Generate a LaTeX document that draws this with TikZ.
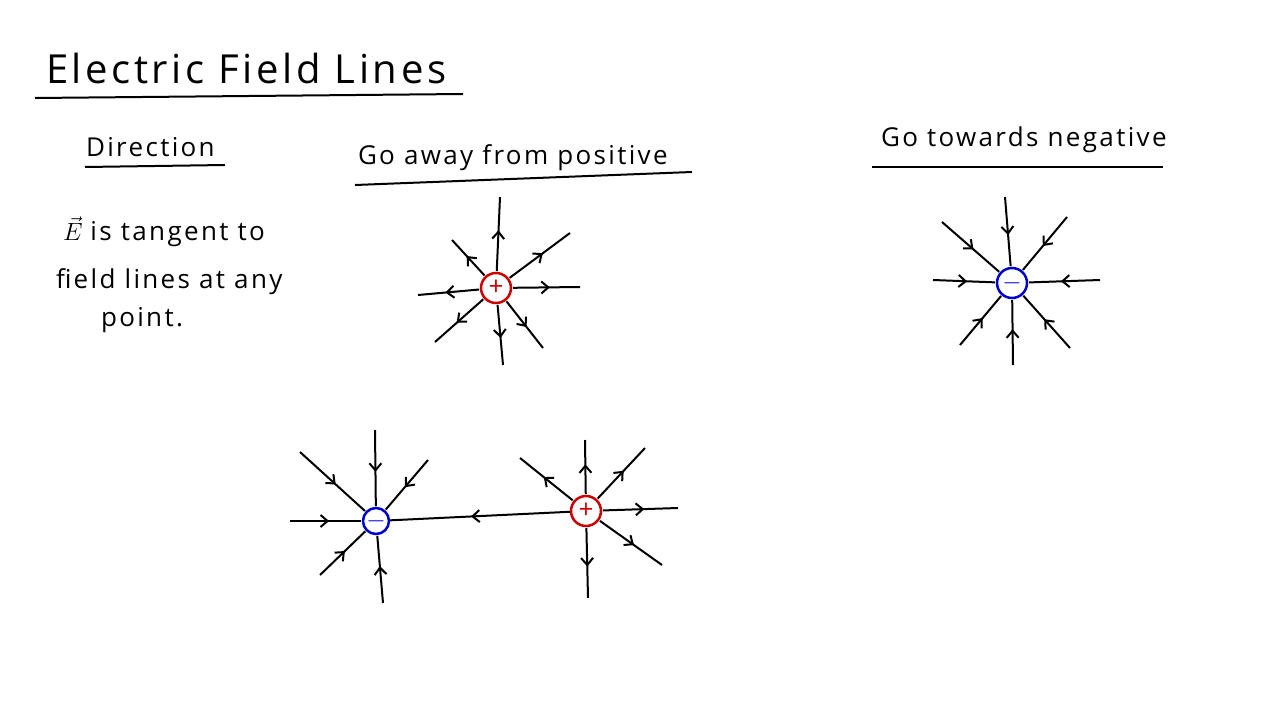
\documentclass[tikz,border=0pt]{standalone}
\usepackage{fontspec}
\setmainfont[LetterSpace=9]{Open Sans}
\usetikzlibrary{calc,decorations.markings,arrows.meta}
\begin{document}
\begin{tikzpicture}[x=1pt,y=-1pt,line width=2pt,
  fl/.style={postaction={decorate},decoration={markings,mark=at position 0.55 with {\arrow{Straight Barb[length=7pt,width=12pt]}}}},
  poscharge/.style={circle,draw=red!80!black,text=red!80!black,minimum size=30pt,inner sep=0pt,line width=2.5pt,font=\fontsize{26}{26}\selectfont},
  negcharge/.style={circle,draw=blue!80!black,text=blue!80!black,minimum size=30pt,inner sep=0pt,line width=2.5pt,font=\fontsize{26}{26}\selectfont},
  lbl/.style={anchor=west,font=\fontsize{26}{30}\selectfont,inner sep=0pt}]
\useasboundingbox[fill=white] (0,0) rectangle (1280,720);
% texts
\node[lbl,font=\fontsize{40}{44}\selectfont] (title) at (45,68) {Electric Field Lines};
\coordinate (t1) at (35,98); \coordinate (t2) at (463,94); \draw (t1) -- (t2);
\node[lbl] (dir) at (85,147) {Direction};
\coordinate (d1) at (85,167); \coordinate (d2) at (225,165); \draw (d1) -- (d2);
\node[lbl] (l1) at (62,232) {$\vec{E}$\hspace{8pt}is tangent to};
\node[lbl] (l2) at (55,282) {field lines at any};
\node[lbl] (l3) at (100,320) {point.};
\node[lbl] (gp) at (357,158) {Go away from positive};
\coordinate (g1) at (355,185); \coordinate (g2) at (692,172); \draw (g1) -- (g2);
\node[lbl] (gn) at (880,140) {Go towards negative};
\coordinate (h1) at (872,167); \coordinate (h2) at (1163,167); \draw (h1) -- (h2);
% positive charge
\node[poscharge] (P) at (496,288) {+};
\foreach \x/\y [count=\i] in {500/197,570/233,580/287,543/348,503/365,435/342,418/295,452/240}
  {\coordinate (pe\i) at (\x,\y); \draw[fl] ($(P)!17pt!(pe\i)$) -- (pe\i);}
% negative charge
\node[negcharge] (N) at (1012,283) {$-$};
\foreach \x/\y [count=\i] in {1005/197,1067/217,1100/280,1070/348,1013/365,960/345,933/280,942/222}
  {\coordinate (ne\i) at (\x,\y); \draw[fl] (ne\i) -- ($(N)!17pt!(ne\i)$);}
% dipole
\node[negcharge,minimum size=26pt] (N2) at (376,521) {$-$};
\node[poscharge,minimum size=30pt] (P2) at (586,511) {+};
\draw[fl] (P2) -- (N2);
\foreach \x/\y [count=\i] in {375/430,428/460,290/521,320/575,383/603,300/452}
  {\coordinate (me\i) at (\x,\y); \draw[fl] (me\i) -- ($(N2)!15pt!(me\i)$);}
\foreach \x/\y [count=\i] in {585/440,645/448,678/508,662/565,588/598,520/458}
  {\coordinate (qe\i) at (\x,\y); \draw[fl] ($(P2)!17pt!(qe\i)$) -- (qe\i);}
\end{tikzpicture}
\end{document}
